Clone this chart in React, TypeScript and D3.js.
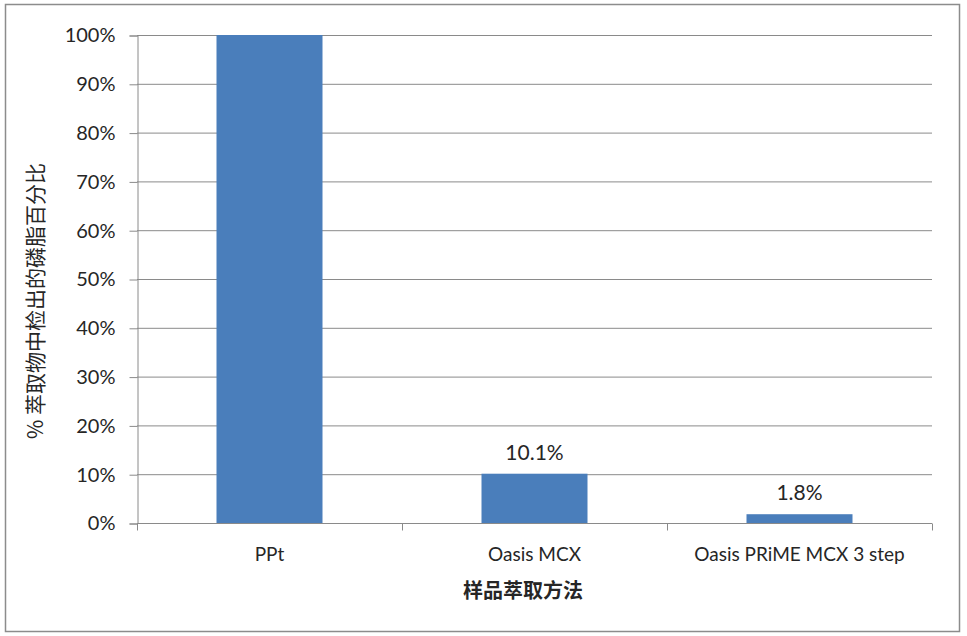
import React, { useEffect, useRef } from 'react';
import * as d3 from 'd3';

const categories = ['PPt', 'Oasis MCX', 'Oasis PRiME MCX 3 step'];
const values = [100, 10.1, 1.8];
const valueLabels = ['', '10.1%', '1.8%'];
const yTicks = [0, 10, 20, 30, 40, 50, 60, 70, 80, 90, 100];
const xTitle = '样品萃取方法';
const yTitle = '% 萃取物中检出的磷脂百分比';

const W = 967;
const H = 636;

const App: React.FC = () => {
  const ref = useRef<SVGSVGElement>(null);

  useEffect(() => {
    const svg = d3.select(ref.current);
    svg.selectAll('*').remove();

    const left = 137, right = 932, top = 35, bottom = 523;
    const font = 'Lato, "Open Sans", sans-serif';
    const cjk = '"Noto Sans CJK SC", sans-serif';
    const textColor = '#262626';
    const gray = '#8a8a8a';

    // outer frame
    svg.append('rect')
      .attr('x', 5.5).attr('y', 4.5)
      .attr('width', 954).attr('height', 627)
      .attr('fill', '#fff').attr('stroke', '#8c8c8c').attr('stroke-width', 1.5);

    const x = d3.scaleBand().domain(categories).range([left, right]).paddingInner(0).paddingOuter(0);
    const y = d3.scaleLinear().domain([0, 100]).range([bottom, top]);

    // gridlines
    svg.append('g').selectAll('line')
      .data(yTicks.filter(t => t > 0))
      .enter().append('line')
      .attr('x1', left).attr('x2', right)
      .attr('y1', d => y(d) + 0.5).attr('y2', d => y(d) + 0.5)
      .attr('stroke', gray).attr('stroke-width', 1);

    // bars
    const bw = x.bandwidth() * 0.4;
    svg.append('g').selectAll('rect')
      .data(values)
      .enter().append('rect')
      .attr('x', (d, i) => (x(categories[i]) as number) + (x.bandwidth() - bw) / 2)
      .attr('y', d => y(d))
      .attr('width', bw)
      .attr('height', d => bottom - y(d))
      .attr('fill', '#4a7ebb');

    // y axis
    const yAxis = svg.append('g')
      .attr('transform', `translate(${left + 0.5},0.5)`)
      .call(d3.axisLeft(y).tickValues(yTicks).tickFormat(d => `${d}%`).tickSize(8).tickPadding(14));
    yAxis.select('.domain').attr('stroke', gray);
    yAxis.selectAll('.tick line').attr('stroke', gray);
    yAxis.selectAll('.tick text')
      .attr('font-family', font).attr('font-size', 20).attr('fill', textColor);

    // x axis
    const xAxis = svg.append('g')
      .attr('transform', `translate(0,${bottom + 0.5})`);
    xAxis.append('line')
      .attr('x1', left).attr('x2', right).attr('stroke', gray);
    const boundaries = categories.map(c => x(c) as number).concat([right]);
    xAxis.selectAll('.xt').data(boundaries).enter().append('line')
      .attr('x1', d => d + 0.5).attr('x2', d => d + 0.5)
      .attr('y1', 0).attr('y2', 7).attr('stroke', gray);
    xAxis.selectAll('text').data(categories).enter().append('text')
      .attr('x', d => (x(d) as number) + x.bandwidth() / 2)
      .attr('y', 37)
      .attr('text-anchor', 'middle')
      .attr('font-family', font).attr('font-size', 19).attr('fill', textColor)
      .text(d => d);

    // value labels
    svg.append('g').selectAll('text')
      .data(values)
      .enter().append('text')
      .attr('x', (d, i) => (x(categories[i]) as number) + x.bandwidth() / 2)
      .attr('y', d => y(d) - 14)
      .attr('text-anchor', 'middle')
      .attr('font-family', font).attr('font-size', 21).attr('fill', textColor)
      .text((d, i) => valueLabels[i]);

    // titles
    svg.append('text')
      .attr('x', 523).attr('y', 598)
      .attr('text-anchor', 'middle')
      .attr('font-family', cjk).attr('font-size', 20).attr('font-weight', 'bold').attr('fill', textColor)
      .text(xTitle);

    svg.append('text')
      .attr('transform', `translate(43,301) rotate(-90)`)
      .attr('text-anchor', 'middle')
      .attr('font-family', cjk).attr('font-size', 21).attr('font-weight', 400).attr('fill', textColor)
      .text(yTitle);
  }, []);

  return (
    <svg ref={ref} width={W} height={H} style={{ position: 'absolute', left: 0, top: 0, background: '#fff' }} />
  );
};

export default App;
